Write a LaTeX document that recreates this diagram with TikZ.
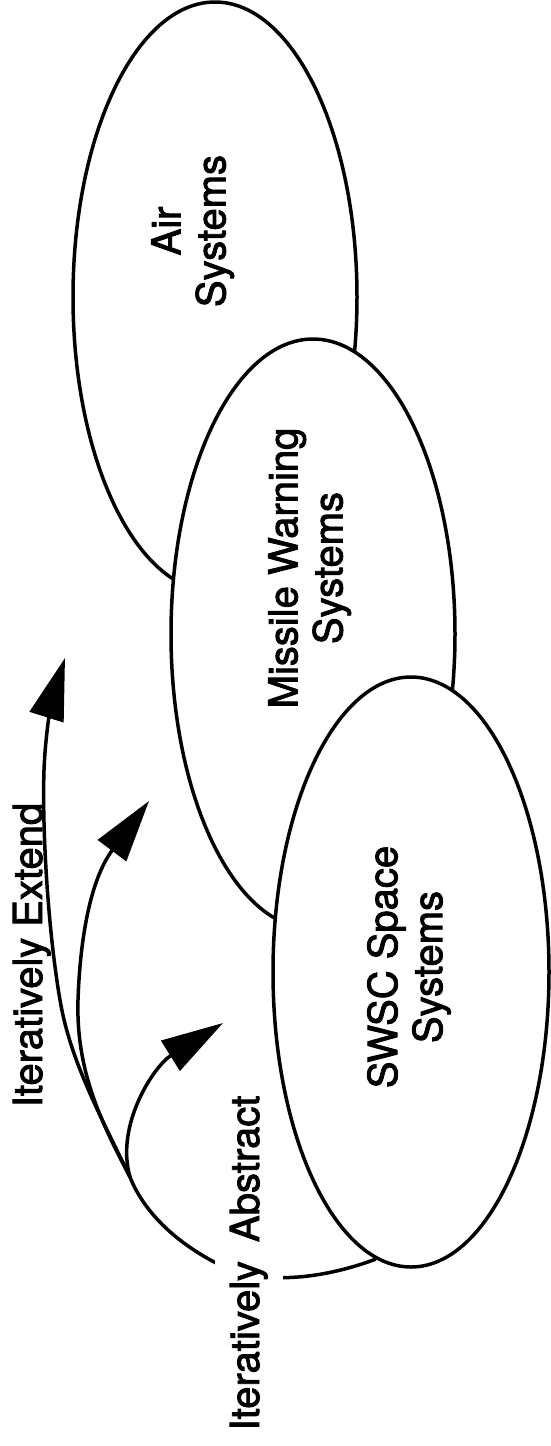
\documentclass[tikz,border=0pt]{standalone}
\usepackage{fontspec}
\setmainfont{TeX Gyre Heros}
\newfontfamily\lblfont[FakeBold=2.2]{TeX Gyre Heros}
\usetikzlibrary{shapes.geometric,arrows.meta}
\begin{document}
\begin{tikzpicture}[x=1pt,y=-1pt,
  oval/.style={ellipse,draw,fill=white,line width=3.5pt,minimum width=284pt,minimum height=590pt,inner sep=0pt},
  lbl/.style={rotate=90,align=center,font=\lblfont\fontsize{40}{45}\selectfont,inner sep=0pt,anchor=north},
  sidelbl/.style={rotate=90,font=\lblfont\fontsize{40}{45}\selectfont,anchor=base,inner sep=0pt},
  conn/.style={line width=3.5pt},
  arr/.style={conn,-{Triangle[length=62pt,width=35pt]}}
]
\fill[white] (0,0) rectangle (551,1446);
\useasboundingbox (0,0) rectangle (551,1446);

% ellipses (back to front)
\node[oval] (air) at (215,297) {};
\node[oval] (mws) at (313,634) {};
\node[oval,minimum width=276pt] (swsc) at (411,972) {};

% ellipse labels
\node[lbl] (airt) at (151,231) {Air\\Systems};
\node[lbl] (mwst) at (268,568) {Missile Warning\\Systems};
\node[lbl] (swsct) at (367,967) {SWSC Space\\Systems};

% connectors
\coordinate (B) at (130,1177);
\coordinate (low) at (220,1265);
\coordinate (tipS) at (223,1023);
\coordinate (tipM) at (149,801);
\coordinate (tipL) at (65,658);

\draw[conn] (swsc.263) .. controls (320,1280) and (260,1285) .. (low)
  .. controls (180,1245) and (145,1215) .. (B);
\draw[arr] (B) .. controls (115,1125) and (154,1066) .. (tipS);
\draw[arr] (B) .. controls (100,1120) and (76,1070) .. (78,1000)
  .. controls (80,940) and (90,880) .. (tipM);
\draw[arr] (B) .. controls (100,1115) and (70,1060) .. (60,1000)
  .. controls (48,930) and (42,830) .. (44,770)
  .. controls (46,720) and (55,690) .. (tipL);

% side labels
\node[sidelbl] (ext) at (42,955) {Iteratively Extend};
\node[sidelbl,fill=white,inner xsep=4pt,inner ysep=15pt] (abs) at (259,1263) {Iteratively\hspace{19pt}Abstract};
\end{tikzpicture}
\end{document}
